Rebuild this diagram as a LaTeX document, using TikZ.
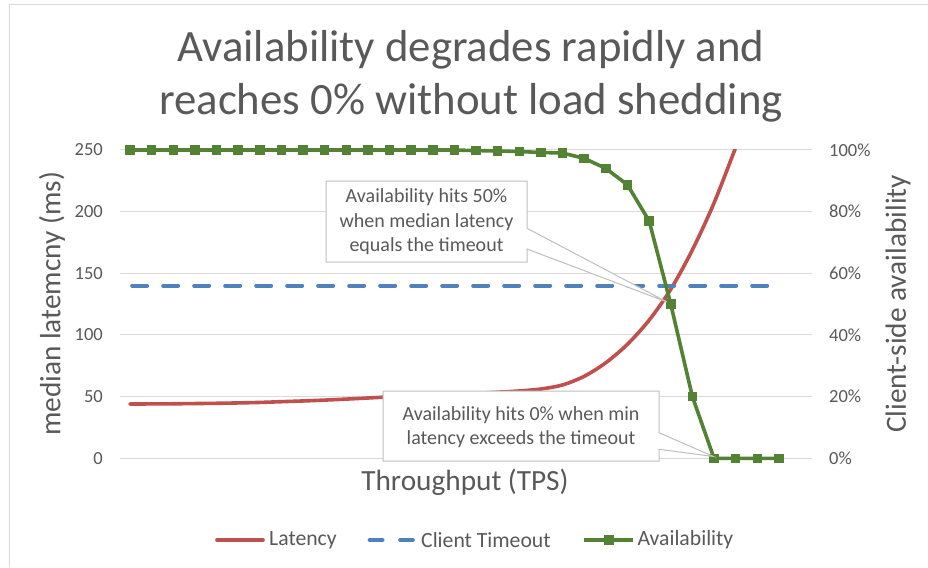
\documentclass[tikz,border=0pt]{standalone}
\usepackage{fontspec}
\setmainfont{Carlito}
\definecolor{txt}{HTML}{595959}
\definecolor{gridc}{HTML}{D9D9D9}
\definecolor{latc}{HTML}{C0504D}
\definecolor{tmoc}{HTML}{4F81BD}
\definecolor{avlc}{HTML}{548235}
\definecolor{callc}{HTML}{BFBFBF}
\begin{document}
\begin{tikzpicture}[x=1pt,y=-1pt,
  titletext/.style={font=\fontsize{44.8}{52}\selectfont, text=txt, inner sep=0pt, anchor=base},
  ticklab/.style={font=\fontsize{18.5}{20}\selectfont, text=txt, inner sep=0pt},
  axtitle/.style={font=\fontsize{29.3}{32}\selectfont, text=txt, inner sep=0pt},
  calltext/.style={font=\fontsize{20}{24.5}\selectfont, text=txt, align=center, inner sep=0pt},
  callshape/.style={draw=callc, fill=white, line width=1pt, line join=miter},
  legtext/.style={font=\fontsize{21.7}{24}\selectfont, text=txt, inner sep=0pt, anchor=west},
  latline/.style={draw=latc, line width=3.6pt, line cap=round, line join=round},
  tmoline/.style={draw=tmoc, line width=3.6pt, line cap=round, dash pattern=on 15.3pt off 15.7pt},
  avlline/.style={draw=avlc, line width=3.6pt, line join=round},
  gridline/.style={draw=gridc, line width=1pt},
]
\useasboundingbox (0,0) rectangle (928,567);
\fill[white] (0,0) rectangle (928,567);
\draw[gridline] (9,567) -- (9,5) -- (928,5);

% title
\node[titletext] (t1) at (471,62) {Availability degrades rapidly and};
\node[titletext] (t2) at (471,114) {reaches 0\% without load shedding};

% gridlines and tick labels
\foreach \v/\p [count=\k] in {0/0,50/20,100/40,150/60,200/80,250/100} {
  \draw[gridline] (120,{458.3-1.2333*\v}) -- (812,{458.3-1.2333*\v});
  \node[ticklab, anchor=east] (l\k) at (103,{458.3-1.2333*\v}) {\v};
  \node[ticklab, anchor=west] (r\k) at (829,{458.3-1.2333*\v}) {\p\%};
}

% axis titles
\node[axtitle, rotate=90] (ylab) at (52,304) {median latemcny (ms)};
\node[axtitle, rotate=90] (y2lab) at (898,304) {Client-side availability};
\node[axtitle] (xlab) at (465,482) {Throughput (TPS)};

% latency
\begin{scope}[shift={(130,458.3)}, x=21.63pt, y=1.2333pt]
  \clip (-1,-10) rectangle (32,250);
  \draw[latline] plot[smooth, tension=0.5] coordinates {
    (0,44) (1,44.1) (2,44.2) (3,44.4) (4,44.6) (5,44.9) (6,45.3) (7,45.9)
    (8,46.5) (9,47.2) (10,48) (11,48.9) (12,49.8) (13,50.6) (14,51.3)
    (15,52) (16,52.7) (17,53.6) (18,54.6) (19,56.2) (20,59.5) (21,66.5)
    (22,77.5) (23,92.5) (24,112) (25,137) (26,169) (27,207) (28,252)};
\end{scope}

% client timeout
\draw[tmoline] (132,285.7) -- (779,285.7);

% availability
\begin{scope}[shift={(130,458.3)}, x=21.63pt, y=3.083pt]
  \draw[avlline] plot coordinates {
    (0,100) (1,100) (2,100) (3,100) (4,100) (5,100) (6,100) (7,100)
    (8,100) (9,100) (10,100) (11,100) (12,100) (13,100) (14,100) (15,100)
    (16,99.8) (17,99.7) (18,99.5) (19,99.2) (20,99.0) (21,97.3) (22,94.0)
    (23,88.7) (24,77.0) (25,50) (26,20) (27,0) (28,0) (29,0) (30,0)};
  \foreach \i/\p in {0/100,1/100,2/100,3/100,4/100,5/100,6/100,7/100,
    8/100,9/100,10/100,11/100,12/100,13/100,14/100,15/100,
    16/99.8,17/99.7,18/99.5,19/99.2,20/99.0,21/97.3,22/94.0,
    23/88.7,24/77.0,25/50,26/20,27/0,28/0,29/0,30/0}
    \fill[avlc] (\i,\p) ++(-4.75pt,-4.75pt) rectangle ++(9.5pt,9.5pt);
\end{scope}

% callouts
\draw[callshape] (326,181) -- (527,181) -- (527,228.3) -- (667,302) -- (527,249) -- (527,262) -- (326,262) -- cycle;
\node[calltext] (c1) at (426.5,222) {Availability hits 50\%\\when median latency\\equals the timeout};

\draw[callshape] (383,391) -- (659,391) -- (659,432.7) -- (713.5,456.5) -- (659,449.3) -- (659,461) -- (383,461) -- cycle;
\node[calltext] (c2) at (521,427) {Availability hits 0\% when min\\latency exceeds the timeout};

% legend
\draw[latline] (217,540) -- (263,540);
\node[legtext] (lg1) at (269,540) {Latency};
\draw[draw=tmoc, line width=3.6pt, line cap=round] (369.5,540) -- (382.7,540) (400,540) -- (413,540);
\node[legtext] (lg2) at (421,540) {Client Timeout};
\draw[avlline] (584,540) -- (633,540);
\fill[avlc] (608.6,540) ++(-5pt,-5pt) rectangle ++(10pt,10pt);
\node[legtext] (lg3) at (637.3,540) {Availability};
\end{tikzpicture}
\end{document}
